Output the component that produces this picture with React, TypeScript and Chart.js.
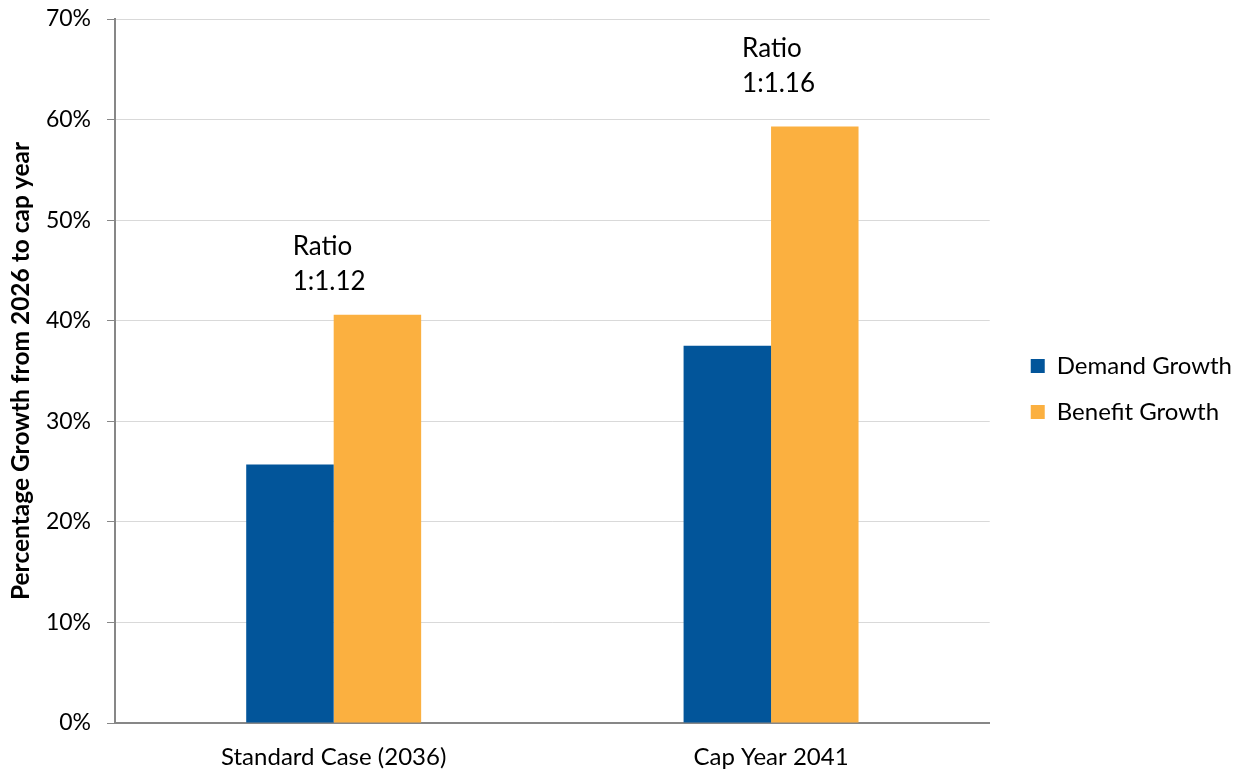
import React, { useEffect, useRef } from "react";
import { Chart, registerables } from "chart.js";

Chart.register(...registerables);

const categories = ["Standard Case (2036)", "Cap Year 2041"];
const demandGrowth = [25.7, 37.5];
const benefitGrowth = [40.6, 59.3];
const ratioLabels = ["1:1.12", "1:1.16"];
const ratioTitle = "Ratio";
const yTicks = [0, 10, 20, 30, 40, 50, 60, 70];

const FONT = "Lato, 'Open Sans', sans-serif";

const ratioPlugin = {
  id: "ratioPlugin",
  afterLayout(chart: any, _args: any, opts: any) {
    const lg = chart.legend;
    if (lg) {
      lg.left += opts.legendShiftX;
      lg.right += opts.legendShiftX;
      lg.top += opts.legendShiftY;
      lg.bottom += opts.legendShiftY;
    }
  },
  afterDatasetsDraw(chart: any, _args: any, opts: any) {
    const { ctx } = chart;
    const xs = chart.scales.x;
    const ys = chart.scales.y;
    ctx.save();
    ctx.font = `26px ${FONT}`;
    ctx.fillStyle = "#000";
    ctx.textAlign = "left";
    ctx.textBaseline = "middle";
    ratioLabels.forEach((lab: string, i: number) => {
      const x = xs.getPixelForValue(i) + opts.xOffsets[i];
      const yBar = ys.getPixelForValue(benefitGrowth[i]);
      const y2 = yBar - opts.gaps[i];
      ctx.fillText(ratioTitle, x, y2 - 35);
      ctx.fillText(lab, x, y2);
    });
    ctx.restore();
  },
};

export default function App() {
  const ref = useRef<HTMLCanvasElement | null>(null);
  useEffect(() => {
    if (!ref.current) return;
    const chart = new Chart(ref.current, {
      type: "bar",
      data: {
        labels: categories,
        datasets: [
          {
            label: "Demand Growth",
            data: demandGrowth,
            backgroundColor: "#02559A",
            categoryPercentage: 0.4,
            barPercentage: 1.0,
          },
          {
            label: "Benefit Growth",
            data: benefitGrowth,
            backgroundColor: "#FBB040",
            categoryPercentage: 0.4,
            barPercentage: 1.0,
          },
        ],
      },
      plugins: [ratioPlugin],
      options: {
        animation: false,
        responsive: false,
        maintainAspectRatio: false,
        layout: { padding: { left: 0, top: 19, right: 15, bottom: 0 } },
        plugins: {
          ratioPlugin: { xOffsets: [-41, -29], gaps: [33, 43], legendShiftX: 19, legendShiftY: -6 },
          legend: {
            position: "right",
            labels: {
              boxWidth: 14,
              boxHeight: 14,
              padding: 22,
              color: "#000",
              font: { family: FONT, size: 24 },
            },
          },
          tooltip: { enabled: false },
        } as any,
        scales: {
          x: {
            grid: { display: false, drawTicks: false },
            border: { display: true, color: "#878787", width: 2 },
            afterFit(scale: any) {
              scale.height = 48;
              scale.paddingLeft = 0;
              scale.paddingRight = 0;
            },
            ticks: {
              color: "#000",
              padding: 20,
              font: { family: FONT, size: 24 },
            },
          },
          y: {
            min: 0,
            max: 70,
            afterFit(scale: any) {
              scale.width = 115;
              scale.paddingTop = 0;
              scale.paddingBottom = 0;
            },
            afterBuildTicks(scale: any) {
              scale.ticks = yTicks.map((v) => ({ value: v }));
            },
            grid: {
              color: "#d9d9d9",
              lineWidth: 1,
              tickColor: "#878787",
              tickLength: 8,
            },
            border: { display: true, color: "#878787", width: 2 },
            ticks: {
              color: "#000",
              padding: 16,
              font: { family: FONT, size: 23 },
              callback: (v: any) => `${v}%`,
            },
            title: {
              display: true,
              text: "Percentage Growth from 2026 to cap year",
              color: "#000",
              font: { family: FONT, size: 24.5, weight: "bold" },
              padding: { top: 6, bottom: 6 },
            },
          },
        },
      },
    });
    return () => chart.destroy();
  }, []);
  return (
    <div style={{ position: "absolute", left: 0, top: 0, width: 1238, height: 771, background: "#fff" }}>
      <canvas ref={ref} width={1238} height={771} style={{ width: 1238, height: 771 }} />
    </div>
  );
}
